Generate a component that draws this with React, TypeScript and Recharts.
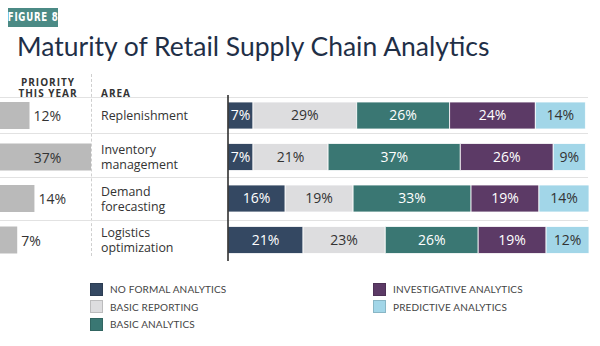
import { Bar, BarChart, LabelList, ReferenceLine, XAxis, YAxis } from "recharts";

const areas = ["Replenishment", "Inventory management", "Demand forecasting", "Logistics optimization"];
const priorityThisYear = [12, 37, 14, 7];

const noFormal = [7, 7, 16, 21];
const basicReporting = [29, 21, 19, 23];
const basicAnalytics = [26, 37, 33, 26];
const investigative = [24, 26, 19, 19];
const predictive = [14, 9, 14, 12];

const series = [
  { key: "noFormal", name: "NO FORMAL ANALYTICS", values: noFormal, color: "#344862", text: "#fff" },
  { key: "basicReporting", name: "BASIC REPORTING", values: basicReporting, color: "#dddddf", text: "#333" },
  { key: "basicAnalytics", name: "BASIC ANALYTICS", values: basicAnalytics, color: "#3a7773", text: "#fff" },
  { key: "investigative", name: "INVESTIGATIVE ANALYTICS", values: investigative, color: "#5c3a66", text: "#fff" },
  { key: "predictive", name: "PREDICTIVE ANALYTICS", values: predictive, color: "#a2d6e8", text: "#333" },
];

const rows = areas.map((area, i) => {
  const r: Record<string, string | number> = { area, priority: priorityThisYear[i] };
  series.forEach((s) => (r[s.key] = s.values[i]));
  return r;
});

const font = "'Open Sans', sans-serif";
const maxPriority = Math.max(...priorityThisYear);

function PriorityLabel(props: any) {
  const { x, y, width, height, value } = props;
  const inside = value === maxPriority;
  return (
    <text
      x={inside ? x + width / 2 + 2 : x + width + 4}
      y={y + height / 2}
      textAnchor={inside ? "middle" : "start"}
      dominantBaseline="central"
      fill="#333"
      fontSize={14}
      fontFamily={font}
    >
      {value}%
    </text>
  );
}

function AreaTick(props: any) {
  const { y, payload } = props;
  const words = String(payload.value).split(" ");
  const lh = 15;
  const top = y - ((words.length - 1) * lh) / 2;
  return (
    <g>
      {words.map((w, i) => (
        <text
          key={i}
          x={10}
          y={top + i * lh}
          fill="#333"
          fontSize={12.4}
          fontFamily={font}
          dominantBaseline="central"
        >
          {w}
        </text>
      ))}
    </g>
  );
}

const sepYs = [97, 133, 177, 220];

export default function App() {
  return (
    <div
      style={{
        position: "absolute",
        left: 0,
        top: 0,
        width: 600,
        height: 346,
        background: "#fff",
        overflow: "hidden",
        fontFamily: font,
      }}
    >
      <div
        style={{
          position: "absolute",
          left: 8,
          top: 8,
          width: 50,
          height: 19,
          background: "#4b8a85",
          overflow: "hidden",
        }}
      >
        <div
          style={{
            width: 70,
            marginLeft: -10,
            transform: "scaleX(0.72)",
            color: "#fff",
            fontFamily: "'DejaVu Sans', sans-serif",
            fontWeight: 700,
            fontSize: 12,
            letterSpacing: 1,
            lineHeight: "19px",
            textAlign: "center",
            whiteSpace: "nowrap",
          }}
        >
          FIGURE 8
        </div>
      </div>
      <div
        style={{
          position: "absolute",
          left: 17,
          top: 30,
          fontSize: 26.5,
          color: "#1f2f47",
          fontFamily: "Lato, sans-serif",
          whiteSpace: "nowrap",
        }}
      >
        Maturity of Retail Supply Chain Analytics
      </div>
      <div
        style={{
          position: "absolute",
          left: 10,
          top: 76.5,
          width: 76,
          textAlign: "center",
          fontSize: 10,
          fontWeight: 700,
          letterSpacing: 1,
          lineHeight: "11.5px",
          color: "#333",
        }}
      >
        PRIORITY
        <br />
        THIS YEAR
      </div>
      <div
        style={{
          position: "absolute",
          left: 101,
          top: 87.5,
          fontSize: 10,
          fontWeight: 700,
          letterSpacing: 1,
          color: "#333",
          lineHeight: "11.5px",
        }}
      >
        AREA
      </div>
      <div
        style={{
          position: "absolute",
          left: 91,
          top: 74,
          height: 182,
          borderLeft: "1px dashed #cfcfcf",
        }}
      />
      {sepYs.map((y) => (
        <div
          key={y}
          style={{ position: "absolute", left: 0, top: y, width: 588, height: 0, borderTop: "1.5px solid #e2e2e2" }}
        />
      ))}

      <div style={{ position: "absolute", left: 0, top: 94.5 }}>
        <BarChart width={91} height={166} data={rows} layout="vertical" margin={{ top: 0, right: 0, bottom: 0, left: 0 }}>
          <XAxis type="number" hide domain={[0, maxPriority]} />
          <YAxis type="category" dataKey="area" hide />
          <Bar dataKey="priority" fill="#bababa" barSize={27} isAnimationActive={false}>
            <LabelList dataKey="priority" content={PriorityLabel} />
          </Bar>
        </BarChart>
      </div>

      <div style={{ position: "absolute", left: 91, top: 94.5 }}>
        <BarChart width={498} height={166} data={rows} layout="vertical" margin={{ top: 0, right: 0, bottom: 0, left: 0 }}>
          <XAxis type="number" hide domain={[0, 101]} />
          <YAxis
            type="category"
            dataKey="area"
            width={137}
            axisLine={false}
            tickLine={false}
            tick={<AreaTick />}
          />
          {series.map((s) => (
            <Bar
              key={s.key}
              dataKey={s.key}
              stackId="a"
              fill={s.color}
              stroke="#fff"
              strokeWidth={0.8}
              barSize={27}
              isAnimationActive={false}
            >
              <LabelList
                dataKey={s.key}
                position="center"
                fill={s.text}
                fontSize={14}
                fontFamily={font}
                formatter={(v: any) => `${v}%`}
              />
            </Bar>
          ))}
          <ReferenceLine x={0} stroke="#222" strokeWidth={1.5} />
        </BarChart>
      </div>

      {series.map((s, i) => {
        const col = i < 3 ? 0 : 1;
        const row = i < 3 ? i : i - 3;
        return (
          <div
            key={s.key}
            style={{
              position: "absolute",
              left: col === 0 ? 90 : 373,
              top: 283 + row * 17.5,
              display: "flex",
              alignItems: "center",
              height: 12,
            }}
          >
            <div
              style={{
                width: 11,
                height: 11,
                background: s.color,
                border: "1px solid rgba(0,0,0,0.15)",
              }}
            />
            <span
              style={{
                marginLeft: 7,
                fontSize: 10,
                fontFamily: "Lato, sans-serif",
                letterSpacing: 0.15,
                color: "#444",
                whiteSpace: "nowrap",
              }}
            >
              {s.name}
            </span>
          </div>
        );
      })}
    </div>
  );
}
